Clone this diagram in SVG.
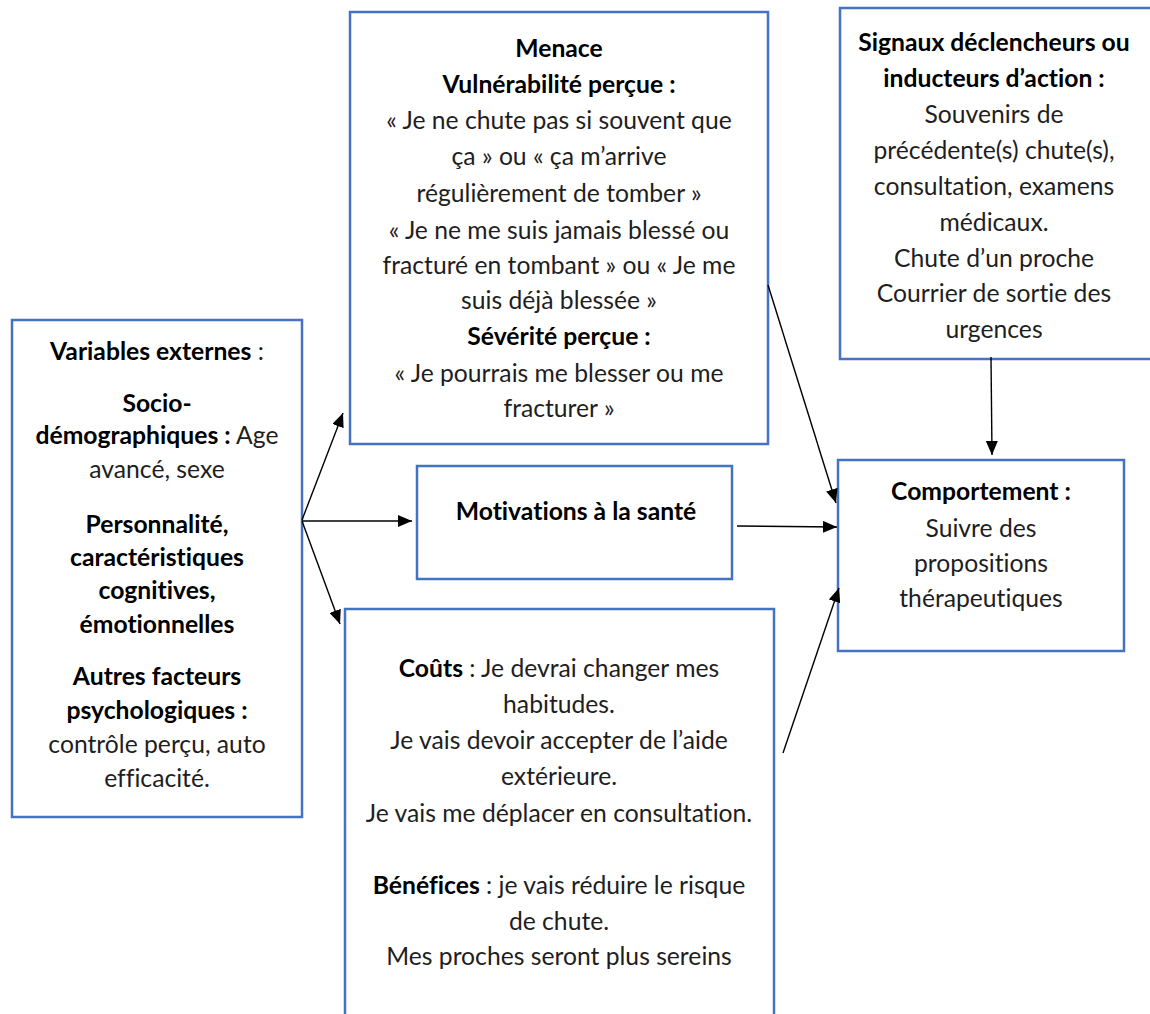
<svg xmlns="http://www.w3.org/2000/svg" width="1150" height="1014" viewBox="0 0 1150 1014">
  <defs>
    <marker id="arrow" markerUnits="userSpaceOnUse" markerWidth="15" markerHeight="12" refX="14" refY="6" orient="auto">
      <path d="M0,0 L14,6 L0,12 z" fill="#000"/>
    </marker>
    <style>
      .box { fill: #fff; stroke: #4472c4; stroke-width: 2.5; }
      .t { font-family: Lato, "Liberation Sans", sans-serif; font-size: 24.7px; fill: #1e1e1e; text-anchor: middle; font-variant-ligatures: none; }
      .b { font-weight: bold; fill: #000; }
      .edge { stroke: #000; stroke-width: 1.4; fill: none; marker-end: url(#arrow); }
    </style>
  </defs>
  <rect width="1150" height="1014" fill="#fff"/>

  <!-- Menace -->
  <g id="menace">
    <rect class="box" x="350" y="12" width="418" height="432"/>
    <text class="t b" x="559" y="57">Menace</text>
    <text class="t b" x="559" y="93">Vulnérabilité perçue :</text>
    <text class="t" x="559" y="129">« Je ne chute pas si souvent que</text>
    <text class="t" x="559" y="165">ça » ou « ça m’arrive</text>
    <text class="t" x="559" y="202">régulièrement de tomber »</text>
    <text class="t" x="559" y="239">« Je ne me suis jamais blessé ou</text>
    <text class="t" x="559" y="274">fracturé en tombant » ou « Je me</text>
    <text class="t" x="559" y="309">suis déjà blessée »</text>
    <text class="t b" x="559" y="345">Sévérité perçue :</text>
    <text class="t" x="559" y="382">« Je pourrais me blesser ou me</text>
    <text class="t" x="559" y="417">fracturer »</text>
  </g>

  <!-- Signaux déclencheurs -->
  <g id="signaux">
    <rect class="box" x="840" y="8" width="320" height="351"/>
    <text class="t b" x="994" y="51">Signaux déclencheurs ou</text>
    <text class="t b" x="994" y="87">inducteurs d’action :</text>
    <text class="t" x="994" y="123">Souvenirs de</text>
    <text class="t" x="994" y="159">précédente(s) chute(s),</text>
    <text class="t" x="994" y="195">consultation, examens</text>
    <text class="t" x="994" y="231">médicaux.</text>
    <text class="t" x="994" y="267">Chute d’un proche</text>
    <text class="t" x="994" y="302">Courrier de sortie des</text>
    <text class="t" x="994" y="338">urgences</text>
  </g>

  <!-- Variables externes -->
  <g id="variables">
    <rect class="box" x="12" y="320" width="290" height="497"/>
    <text class="t" x="157" y="360"><tspan class="b">Variables externes</tspan> :</text>
    <text class="t b" x="157" y="412">Socio-</text>
    <text class="t" x="157" y="444"><tspan class="b">démographiques :</tspan> Age</text>
    <text class="t" x="157" y="478">avancé, sexe</text>
    <text class="t b" x="157" y="533">Personnalité,</text>
    <text class="t b" x="157" y="566">caractéristiques</text>
    <text class="t b" x="157" y="599">cognitives,</text>
    <text class="t b" x="157" y="633">émotionnelles</text>
    <text class="t b" x="157" y="685">Autres facteurs</text>
    <text class="t b" x="157" y="719">psychologiques :</text>
    <text class="t" x="157" y="753">contrôle perçu, auto</text>
    <text class="t" x="157" y="787">efficacité.</text>
  </g>

  <!-- Motivations -->
  <g id="motivations">
    <rect class="box" x="417" y="466" width="315" height="113"/>
    <text class="t b" x="576" y="520">Motivations à la santé</text>
  </g>

  <!-- Coûts / Bénéfices -->
  <g id="couts">
    <rect class="box" x="345" y="609" width="429" height="420"/>
    <text class="t" x="559" y="677"><tspan class="b">Coûts</tspan> : Je devrai changer mes</text>
    <text class="t" x="559" y="713">habitudes.</text>
    <text class="t" x="559" y="749">Je vais devoir accepter de l’aide</text>
    <text class="t" x="559" y="785">extérieure.</text>
    <text class="t" x="559" y="822">Je vais me déplacer en consultation.</text>
    <text class="t" x="559" y="894"><tspan class="b">Bénéfices</tspan> : je vais réduire le risque</text>
    <text class="t" x="559" y="930">de chute.</text>
    <text class="t" x="559" y="965">Mes proches seront plus sereins</text>
  </g>

  <!-- Comportement -->
  <g id="comportement">
    <rect class="box" x="838" y="460" width="286" height="191"/>
    <text class="t b" x="981" y="500">Comportement :</text>
    <text class="t" x="981" y="537">Suivre des</text>
    <text class="t" x="981" y="572">propositions</text>
    <text class="t" x="981" y="607">thérapeutiques</text>
  </g>

  <!-- Connectors -->
  <g id="connectors">
    <line class="edge" x1="302" y1="520" x2="343" y2="413"/>
    <line class="edge" x1="302" y1="521" x2="412" y2="521"/>
    <line class="edge" x1="302" y1="521" x2="340" y2="624"/>
    <line class="edge" x1="768" y1="285" x2="836" y2="503"/>
    <line class="edge" x1="737" y1="526" x2="837" y2="527"/>
    <line class="edge" x1="783" y1="753" x2="839" y2="588"/>
    <line class="edge" x1="991" y1="357" x2="992" y2="455"/>
  </g>
</svg>
